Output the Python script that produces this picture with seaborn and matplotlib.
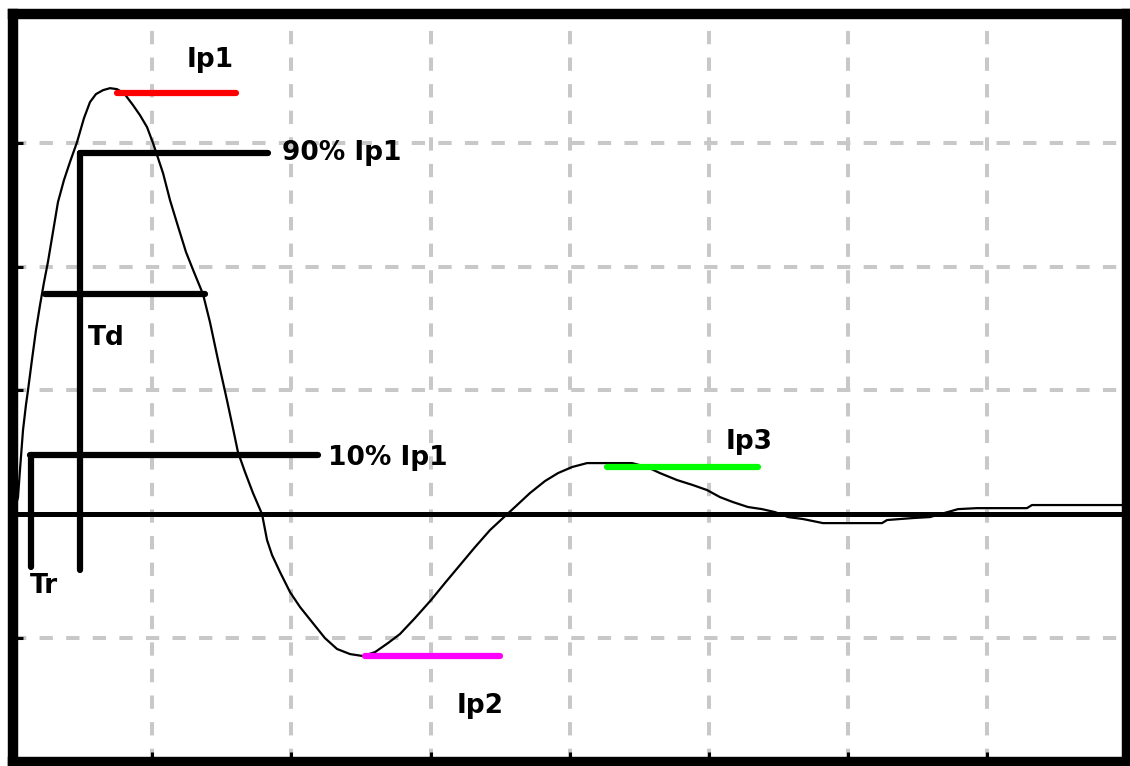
import numpy as np
import pandas as pd
import matplotlib
matplotlib.use("Agg")
import matplotlib.pyplot as plt
import seaborn as sns

# waveform (grid units: x 0..8, y -2..4)
wave_x = [0.000, 0.022, 0.036, 0.050, 0.072, 0.093, 0.108, 0.136, 0.165, 0.194,
          0.223, 0.251, 0.287, 0.323, 0.366, 0.409, 0.460, 0.510, 0.553, 0.596,
          0.647, 0.697, 0.747, 0.797, 0.862, 0.912, 0.963, 1.006, 1.042, 1.078,
          1.128, 1.185, 1.243, 1.300, 1.365, 1.415, 1.473, 1.537, 1.580, 1.616,
          1.667, 1.724, 1.789, 1.825, 1.861, 1.918, 1.990, 2.062, 2.148, 2.241,
          2.328, 2.421, 2.514, 2.601, 2.694, 2.780, 2.888, 3.003, 3.103, 3.211,
          3.319, 3.427, 3.520, 3.606, 3.714, 3.822, 3.915, 4.016, 4.124, 4.289,
          4.447, 4.555, 4.648, 4.770, 4.885, 4.986, 5.079, 5.172, 5.280, 5.381,
          5.474, 5.568, 5.675, 5.819, 6.243, 6.279, 6.466, 6.588, 6.789, 6.925,
          7.284, 7.320, 8.000]
wave_y = [0.000, 0.073, 0.137, 0.355, 0.679, 0.881, 1.002, 1.244, 1.486, 1.688,
          1.874, 2.036, 2.278, 2.520, 2.698, 2.843, 3.005, 3.199, 3.328, 3.393,
          3.425, 3.441, 3.433, 3.401, 3.304, 3.223, 3.126, 2.997, 2.876, 2.754,
          2.536, 2.326, 2.116, 1.955, 1.777, 1.551, 1.244, 0.921, 0.695, 0.501,
          0.339, 0.170, 0.000, -0.210, -0.331, -0.468, -0.630, -0.751, -0.872, -1.002,
          -1.090, -1.131, -1.147, -1.115, -1.042, -0.969, -0.840, -0.695, -0.557, -0.412,
          -0.267, -0.129, -0.032, 0.057, 0.170, 0.267, 0.331, 0.380, 0.412, 0.412,
          0.412, 0.380, 0.331, 0.275, 0.234, 0.194, 0.137, 0.097, 0.057, 0.040,
          0.016, -0.024, -0.040, -0.073, -0.073, -0.048, -0.032, -0.024, 0.040, 0.048,
          0.048, 0.073, 0.073]

# horizontal marker segments: y, x start, x end, colour
seg_y = [3.40, 2.92, 1.78, 0.48, -1.15, 0.38]
seg_x0 = [0.75, 0.48, 0.23, 0.12, 2.53, 4.27]
seg_x1 = [1.60, 1.83, 1.38, 2.19, 3.50, 5.35]
seg_col = ["#ff0000", "black", "black", "black", "#ff00ff", "#00ff00"]

# vertical marker segments (Tr / Td drop lines)
vseg_x = [0.48, 0.13]
vseg_top = [2.92, 0.48]
vseg_bot = [-0.45, -0.43]

labels = ["Ip1", "90% Ip1", "10% Ip1", "Td", "Tr", "Ip2", "Ip3"]
label_x = [1.415, 1.93, 2.26, 0.54, 0.12, 3.355, 5.29]
label_y = [3.61, 2.86, 0.40, 1.37, -0.64, -1.61, 0.525]
label_ha = ["center", "left", "left", "left", "left", "center", "center"]

sns.set_style("white")
plt.rcParams["font.family"] = ["DejaVu Sans"]

fig = plt.figure(figsize=(11.30, 7.66), dpi=100)
ax = fig.add_axes([0.0115, 0.0057, 0.9855, 0.976])

ax.set_xlim(0, 8)
ax.set_ylim(-2, 4.04)
ax.set_xticks(range(0, 9))
ax.set_yticks(range(-2, 4))
ax.set_xticklabels([])
ax.set_yticklabels([])
ax.grid(True, color="#c8c8c8", linewidth=2.9, linestyle=(0, (3.3, 3.3)))
ax.set_axisbelow(True)
ax.tick_params(axis="both", direction="in", length=7, width=2.2, color="black",
               left=True, bottom=True, labelleft=False, labelbottom=False)
for s in ax.spines.values():
    s.set_color("black")
    s.set_linewidth(7.5)
    s.set_capstyle("projecting")
    s.set_zorder(10)

ax.axhline(0, color="black", lw=3.6, zorder=3)

df = pd.DataFrame({"t": wave_x, "i": wave_y})
sns.lineplot(data=df, x="t", y="i", ax=ax, color="black", lw=1.6, sort=False, zorder=4)

for y, a, b, c in zip(seg_y, seg_x0, seg_x1, seg_col):
    ax.plot([a, b], [y, y], color=c, lw=4.5, solid_capstyle="round", zorder=5)
for x, t, b in zip(vseg_x, vseg_top, vseg_bot):
    ax.plot([x, x], [t, b], color="black", lw=4.5, solid_capstyle="round", zorder=5)

for txt, x, y, ha in zip(labels, label_x, label_y, label_ha):
    ax.text(x, y, txt, ha=ha, va="baseline", fontsize=19, fontweight="bold",
            color="black", zorder=6)

ax.set_xlabel("")
ax.set_ylabel("")
fig.savefig("out.png", dpi=100)
